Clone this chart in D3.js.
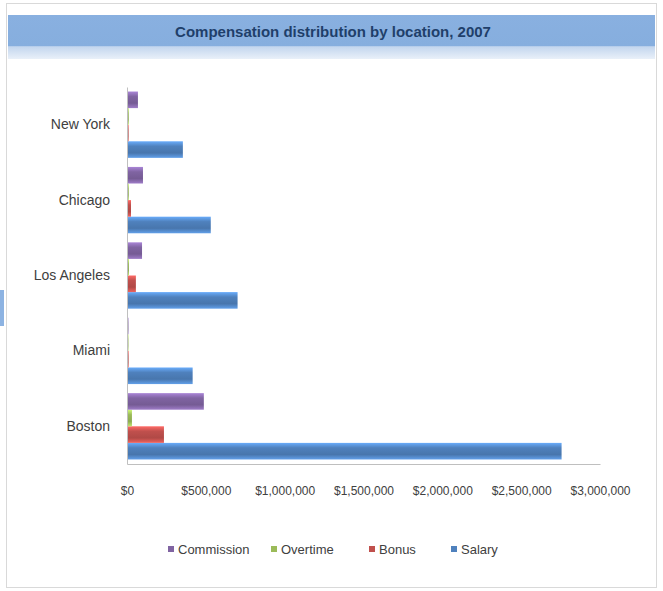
<!DOCTYPE html>
<html>
<head>
<meta charset="utf-8">
<script src="https://cdn.jsdelivr.net/npm/d3@7"></script>
<style>
  body { margin: 0; background: #fff; }
  svg { display: block; font-family: "Liberation Sans", Arial, sans-serif; }
</style>
</head>
<body>
<svg id="chart" width="663" height="591"></svg>
<script>
// categories listed bottom -> top, the way the spreadsheet stores them
const locations = ['Boston', 'Miami', 'Los Angeles', 'Chicago', 'New York'];
const seriesNames = ['Salary', 'Bonus', 'Overtime', 'Commission'];
const salary = [2750000, 410000, 695000, 525000, 348000];
const bonus = [228000, 4000, 50000, 19000, 4000];
const overtime = [25000, 3000, 6000, 5000, 5000];
const commission = [481000, 3000, 89000, 95000, 63000];
const xTicks = [0, 500000, 1000000, 1500000, 2000000, 2500000, 3000000];
const colors = { Salary: '#4f81bd', Bonus: '#c0504d', Overtime: '#9bbb59', Commission: '#8064a2' };

const values = { Salary: salary, Bonus: bonus, Overtime: overtime, Commission: commission };

const svg = d3.select('#chart');
const plot = { left: 127, right: 600, top: 87, bottom: 464 };

// chart frame
svg.append('rect')
  .attr('x', 6.5).attr('y', 3.5).attr('width', 650).attr('height', 584)
  .attr('fill', '#fff').attr('stroke', '#d9d9d9');
svg.append('rect')
  .attr('x', 0).attr('y', 290).attr('width', 4).attr('height', 36)
  .attr('fill', '#8db3e2');

const defs = svg.append('defs');
const title = defs.append('linearGradient').attr('id', 'titleGrad')
  .attr('x1', 0).attr('y1', 0).attr('x2', 0).attr('y2', 1);
title.append('stop').attr('offset', '0%').attr('stop-color', '#89b0e0');
title.append('stop').attr('offset', '70%').attr('stop-color', '#86aede');
title.append('stop').attr('offset', '72%').attr('stop-color', '#c3d6ee');
title.append('stop').attr('offset', '100%').attr('stop-color', '#e9f0f9');

seriesNames.forEach(name => {
  const c = d3.color(colors[name]);
  const g = defs.append('linearGradient').attr('id', 'grad-' + name)
    .attr('x1', 0).attr('y1', 0).attr('x2', 0).attr('y2', 1);
  g.append('stop').attr('offset', '0%').attr('stop-color', c.brighter(0.8));
  g.append('stop').attr('offset', '30%').attr('stop-color', c);
  g.append('stop').attr('offset', '70%').attr('stop-color', c.darker(0.25));
  g.append('stop').attr('offset', '100%').attr('stop-color', c.brighter(0.6));
});

svg.append('rect')
  .attr('x', 8).attr('y', 15).attr('width', 647).attr('height', 44)
  .attr('fill', 'url(#titleGrad)');
svg.append('text')
  .attr('x', 333).attr('y', 37)
  .attr('text-anchor', 'middle')
  .attr('font-size', 15)
  .attr('font-weight', 'bold')
  .attr('fill', '#1f3f6a')
  .text('Compensation distribution by location, 2007');

const x = d3.scaleLinear().domain([0, 3000000]).range([plot.left, plot.right]);
const y = d3.scaleBand().domain(locations.slice().reverse())
  .range([plot.top, plot.bottom]).paddingInner(0.12).paddingOuter(0.06);
// top bar in each group is the last series
const inner = d3.scaleBand().domain(seriesNames.slice().reverse())
  .range([0, y.bandwidth()]);

const rows = [];
locations.forEach((loc, i) => {
  seriesNames.forEach(name => rows.push({ loc, name, value: values[name][i] }));
});

svg.append('g').selectAll('rect')
  .data(rows)
  .join('rect')
  .attr('x', x(0) + 1)
  .attr('y', d => y(d.loc) + inner(d.name))
  .attr('width', d => Math.max(0, x(d.value) - x(0)))
  .attr('height', inner.bandwidth())
  .attr('fill', d => 'url(#grad-' + d.name + ')');

// axes
const xAxis = svg.append('g')
  .attr('transform', `translate(0,${plot.bottom})`)
  .call(d3.axisBottom(x).tickValues(xTicks).tickSize(0).tickPadding(22)
    .tickFormat(d => d3.format('$,')(d)));
xAxis.select('.domain').attr('stroke', '#bfbfbf');
xAxis.selectAll('text').attr('font-size', 12).attr('fill', '#404040');

const yAxis = svg.append('g')
  .attr('transform', `translate(${plot.left},0)`)
  .call(d3.axisLeft(y).tickSize(0).tickPadding(17));
yAxis.select('.domain').attr('stroke', '#bfbfbf');
yAxis.selectAll('text').attr('font-size', 14).attr('fill', '#404040');

// legend
const legendItems = seriesNames.slice().reverse();
const legendX = [168, 271, 369, 451];
const legend = svg.append('g').selectAll('g')
  .data(legendItems)
  .join('g')
  .attr('transform', (d, i) => `translate(${legendX[i]},549)`);
legend.append('rect')
  .attr('x', 0).attr('y', -3).attr('width', 6).attr('height', 6)
  .attr('fill', d => colors[d]);
legend.append('text')
  .attr('x', 10).attr('y', 5)
  .attr('font-size', 13).attr('fill', '#404040')
  .text(d => d);
</script>
</body>
</html>
